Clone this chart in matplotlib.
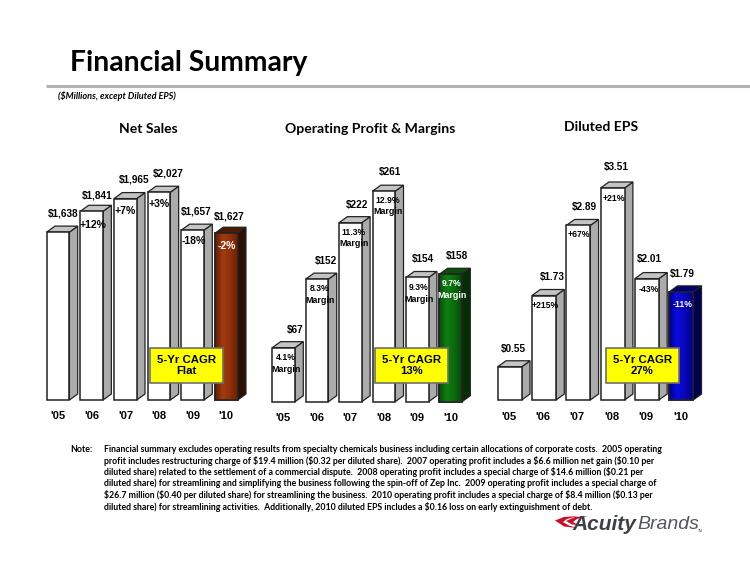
import numpy as np
import matplotlib
matplotlib.use("Agg")
import matplotlib.pyplot as plt
from matplotlib.patches import Polygon, Rectangle
from matplotlib.colors import LinearSegmentedColormap

years = ["'05", "'06", "'07", "'08", "'09", "'10"]
net_sales = [1638, 1841, 1965, 2027, 1657, 1627]
net_labels = ["$1,638", "$1,841", "$1,965", "$2,027", "$1,657", "$1,627"]
net_growth = ["", "+12%", "+7%", "+3%", "-18%", "-2%"]
op_profit = [67, 152, 222, 261, 154, 158]
op_labels = ["$67", "$152", "$222", "$261", "$154", "$158"]
op_margin = ["4.1%", "8.3%", "11.3%", "12.9%", "9.3%", "9.7%"]
eps = [0.55, 1.73, 2.89, 3.51, 2.01, 1.79]
eps_labels = ["$0.55", "$1.73", "$2.89", "$3.51", "$2.01", "$1.79"]
eps_growth = ["", "+215%", "+67%", "+21%", "-43%", "-11%"]
titles = ["Net Sales", "Operating Profit & Margins", "Diluted EPS"]
cagr = ["5-Yr CAGR\nFlat", "5-Yr CAGR\n13%", "5-Yr CAGR\n27%"]
note_lines = [
    "Financial summary excludes operating results from specialty chemicals business including certain allocations of corporate costs.  2005 operating",
    "profit includes restructuring charge of $19.4 million ($0.32 per diluted share).  2007 operating profit includes a $6.6 million net gain ($0.10 per",
    "diluted share) related to the settlement of a commercial dispute.  2008 operating profit includes a special charge of $14.6 million ($0.21 per",
    "diluted share) for streamlining and simplifying the business following the spin-off of Zep Inc.  2009 operating profit includes a special charge of",
    "$26.7 million ($0.40 per diluted share) for streamlining the business.  2010 operating profit includes a special charge of $8.4 million ($0.13 per",
    "diluted share) for streamlining activities.  Additionally, 2010 diluted EPS includes a $0.16 loss on early extinguishment of debt.",
]

W, H = 750, 583
fig = plt.figure(figsize=(W / 100, H / 100), dpi=100, facecolor="white")
SANS = "Liberation Sans"
BODY = "Lato"
TITLE = "Lato"


def pixel_axes(left, right, top, bottom, xlim, ylim):
    ax = fig.add_axes([left / W, 1 - bottom / H, (right - left) / W, (bottom - top) / H])
    ax.set_xlim(*xlim)
    ax.set_ylim(*ylim)
    ax.axis("off")
    ax.patch.set_alpha(0)
    return ax


def bars3d(x0, pitch, width, base, scale, values, side, top_c, grad, side_last, top_last):
    """x0: left px of first bar, base: px of baseline, scale: px per unit."""
    left, right = x0 - 10, x0 + pitch * 5 + width + 25
    ytop, ybot = 150, base + 5
    xlim = ((left - x0 - width / 2) / pitch, (right - x0 - width / 2) / pitch)
    ylim = ((base - ybot) / scale, (base - ytop) / scale)
    ax = pixel_axes(left, right, ytop, ybot, xlim, ylim)
    bw = width / pitch
    dx, dy = 8.3 / pitch, 6.0 / scale
    xs = np.arange(len(values))
    for i, (x, v) in enumerate(zip(xs, values)):
        l, r = x - bw / 2, x + bw / 2
        s = side if i < 5 else side_last
        t = top_c if i < 5 else top_last
        ax.add_patch(Polygon([(r, 0), (r + dx, dy), (r + dx, v + dy), (r, v)], closed=True,
                             fc=s, ec="#222222", lw=0.9, zorder=2 + i))
        ax.add_patch(Polygon([(l, v), (l + dx, v + dy), (r + dx, v + dy), (r, v)], closed=True,
                             fc=t, ec="#222222", lw=0.9, zorder=2 + i))
    fronts = ax.bar(xs, values, width=bw, color="white", edgecolor="#222222", linewidth=1.1)
    for i, b in enumerate(fronts):
        b.set_zorder(2 + i + 0.5)
    last = fronts[5]
    cmap = LinearSegmentedColormap.from_list("g", grad)
    im = ax.imshow(np.linspace(0, 1, 64).reshape(1, -1), cmap=cmap, aspect="auto",
                   extent=(last.get_x(), last.get_x() + bw, 0, values[5]), zorder=7.6)
    im.set_clip_path(last)
    ax.set_xlim(xlim)
    ax.set_ylim(ylim)
    ax.add_patch(Rectangle((last.get_x(), 0), bw, values[5], fc="none", ec="#222222", lw=1.1,
                           zorder=7.7))
    return ax


bars3d(46.7, 33.65, 22.7, 400, 0.1025, net_sales, "#ababab", "#c4c4c4",
       ["#5e1e06", "#a33a10", "#8f3008", "#6a2204"], "#2b0f02", "#4d1a04")
bars3d(272.3, 33.4, 22.7, 401.7, 0.8065, op_profit, "#ababab", "#c4c4c4",
       ["#0a4a0a", "#0f7f12", "#0c6a0e", "#074a08"], "#052e05", "#0a4f0a")
bars3d(497.7, 34.3, 24, 400, 60.4, eps, "#ababab", "#c4c4c4",
       ["#00008a", "#0a0ae0", "#0808b8", "#00008a"], "#000050", "#000070")

ov = fig.add_axes([0, 0, 1, 1], zorder=20)
ov.set_xlim(0, W)
ov.set_ylim(H, 0)
ov.axis("off")
ov.patch.set_alpha(0)


def T(x, y, s, size=8, color="black", weight="bold", family=SANS, ha="center", va="center", **k):
    return ov.text(x, y, s, fontsize=size, color=color, fontweight=weight, family=family,
                   ha=ha, va=va, parse_math=False, **k)


# header
T(70, 63, "Financial Summary", size=20.3, family=TITLE, ha="left")
ov.plot([46, 750], [86, 86], color="#b2b2b2", lw=2.2, solid_capstyle="butt")
T(58, 96, "($Millions, except Diluted EPS)", size=6.6, family=BODY, ha="left", style="italic")
for x, y, s in zip([148, 370, 601], [129, 129, 127], titles):
    T(x, y, s, size=10.1, family=TITLE)

# panel 1
ox, oy = 30, 150
px = [98, 202, 311, 415, 500, 597]; py = [190, 136, 88, 70, 183, 199]
for x, y, s in zip(px, py, net_labels):
    T(ox + x / 3, oy + y / 3, s, size=7.2)
gx = [0, 190, 286, 388, 491, 589]; gy = [0, 224, 182, 161, 273, 287]
for i, (x, y, s) in enumerate(zip(gx, gy, net_growth)):
    if s:
        T(ox + x / 3, oy + y / 3, s, size=7.6, color="white" if i == 5 else "black")
yx = [83, 185, 287, 387, 488, 589]
for x, s in zip(yx, years):
    T(ox + x / 3, oy + 797 / 3, s, size=8)

# panel 2
ox = 260
px = [105, 198, 291, 391, 488, 591]; py = [541, 332, 164, 65, 328, 318]
for x, y, s in zip(px, py, op_labels):
    T(ox + x / 3, oy + y / 3, s, size=7.2)
mx = [77, 180, 282, 384, 477, 575]; my = [622, 416, 247, 151, 413, 401]
for i, (x, y, s) in enumerate(zip(mx, my, op_margin)):
    c = "white" if i == 5 else "black"
    T(ox + x / 3, oy + y / 3, s, size=6.2, color=c)
    T(ox + x / 3, oy + (y + 35) / 3, "Margin", size=6.4, color=c)
yx = [70, 170, 270, 371, 472, 572]
for x, s in zip(yx, years):
    T(ox + x / 3, oy + 805 / 3, s, size=8)

# panel 3
ox = 490
px = [71, 186, 284, 379, 479, 577]; py = [597, 382, 172, 52, 327, 372]
for x, y, s in zip(px, py, eps_labels):
    T(ox + x / 3, oy + y / 3, s, size=7.2)
gx = [0, 167, 266, 372, 476, 578]; gy = [0, 467, 253, 145, 417, 463]
for i, (x, y, s) in enumerate(zip(gx, gy, eps_growth)):
    if s:
        T(ox + x / 3, oy + y / 3, s, size=6.2, color="white" if i == 5 else "black")
yx = [57, 160, 262, 366, 469, 572]
for x, s in zip(yx, years):
    T(ox + x / 3, oy + 800 / 3, s, size=8)

# CAGR boxes
for x0, s in zip([150, 375, 605.7], cagr):
    ov.add_patch(Rectangle((x0, 347.5), 73.3, 35.5, fc="#ffff00", ec="#6f6f6f", lw=1.2, zorder=5))
    T(x0 + 36.6, 365.2, s, size=8.2, zorder=6, linespacing=1.15)

# notes
T(70, 449.5, "Note:", size=6.4, family=BODY, ha="left")
for i, line in enumerate(note_lines):
    T(104, 449.5 + i * 11.4, line, size=6.3, family=BODY, ha="left")

# logo
ov.add_patch(Polygon([(555, 520.5), (564, 517), (578, 516), (567, 519), (563, 522), (569, 525.5), (577, 528), (564, 526.5)],
                     closed=True, fc="#c8102e", ec="none"))
ov.add_patch(Polygon([(566, 521), (575, 517), (588, 516), (577, 519), (573, 522), (578, 525), (572, 524.5)],
                     closed=True, fc="#c8102e", ec="none"))
T(572, 525, "Acuity", size=15, color="#3d4045", family=SANS, ha="left", style="italic")
T(637, 524.5, "Brands", size=14, color="#53565a", weight="normal", family=SANS, ha="left", style="italic")
T(698, 531, "TM", size=2.5, color="#53565a", weight="normal", ha="left")

fig.savefig("out.png", dpi=100)
